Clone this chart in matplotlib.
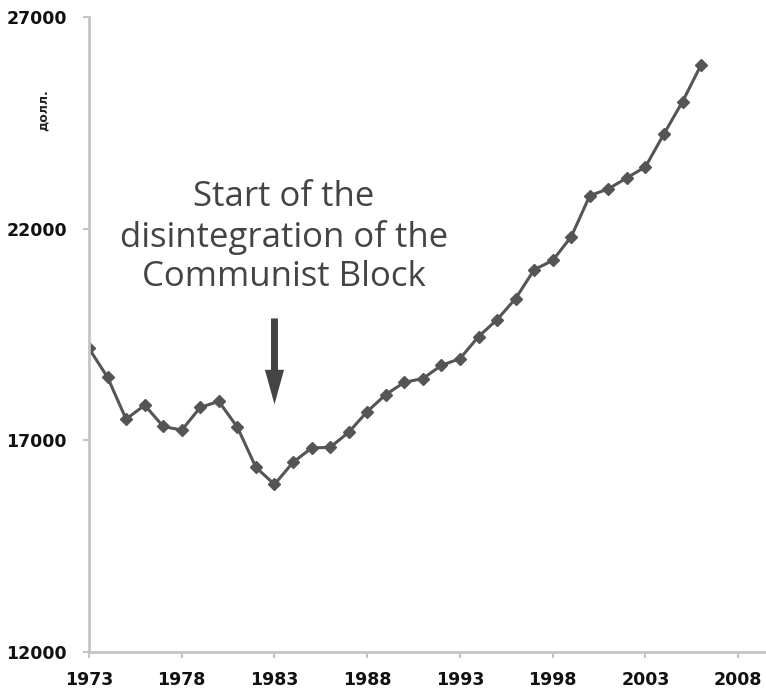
import matplotlib
matplotlib.use('Agg')
import matplotlib.pyplot as plt

# ======================
# DATA
# ======================

years = list(range(1973, 2007))
gdp = [19170, 18490, 17500, 17830, 17330, 17240, 17780, 17920, 17310, 16360,
       15960, 16480, 16820, 16835, 17190, 17680, 18080, 18370, 18460, 18770,
       18930, 19450, 19850, 20350, 21030, 21250, 21810, 22780, 22940, 23200,
       23460, 24240, 25000, 25870]

x_ticks = [1973, 1978, 1983, 1988, 1993, 1998, 2003, 2008]
y_ticks = [12000, 17000, 22000, 27000]

note = 'Start of the\ndisintegration of the\nCommunist Block'
unit = 'долл.'

# ======================
# PLOT
# ======================

fig = plt.figure(figsize=(7.66, 6.93), dpi=100)
ax = fig.add_axes([89 / 766, 1 - 652 / 693, 1 - 89 / 766, (652 - 17) / 693])

ax.plot(years, gdp, color='#555555', linewidth=2.2, marker='D', markersize=6,
        markerfacecolor='#555555', markeredgecolor='#555555')

ax.set_xlim(1973, 2009.5)
ax.set_ylim(12000, 27000)
ax.set_xticks(x_ticks)
ax.set_yticks(y_ticks)

for side in ['top', 'right']:
    ax.spines[side].set_visible(False)
for side in ['left', 'bottom']:
    ax.spines[side].set_color('#c4c4c4')
    ax.spines[side].set_linewidth(2)

ax.tick_params(axis='both', direction='out', length=4, width=1.5, color='#c4c4c4',
               labelsize=12.5, labelcolor='#111111')
ax.tick_params(axis='x', pad=10)
ax.tick_params(axis='y', pad=12)
for lab in ax.get_xticklabels() + ax.get_yticklabels():
    lab.set_fontweight('bold')

# unit label, top left
fig.text(43 / 766, 1 - 110 / 693, unit, rotation=90, ha='center', va='center',
         fontsize=9, fontweight='bold', color='#222222')

# annotation text and arrow
ax.text(1983.5, 21800, note, ha='center', va='center', fontsize=25,
        family='Open Sans', color='#444444', linespacing=1.22)
ax.annotate('', xy=(1983, 17850), xytext=(1983, 19880),
            arrowprops=dict(arrowstyle='-|>,head_length=1.3,head_width=0.36',
                            color='#444444', linewidth=5, shrinkA=0, shrinkB=0,
                            joinstyle='miter', capstyle='butt'))

plt.savefig('out.png', dpi=100)
